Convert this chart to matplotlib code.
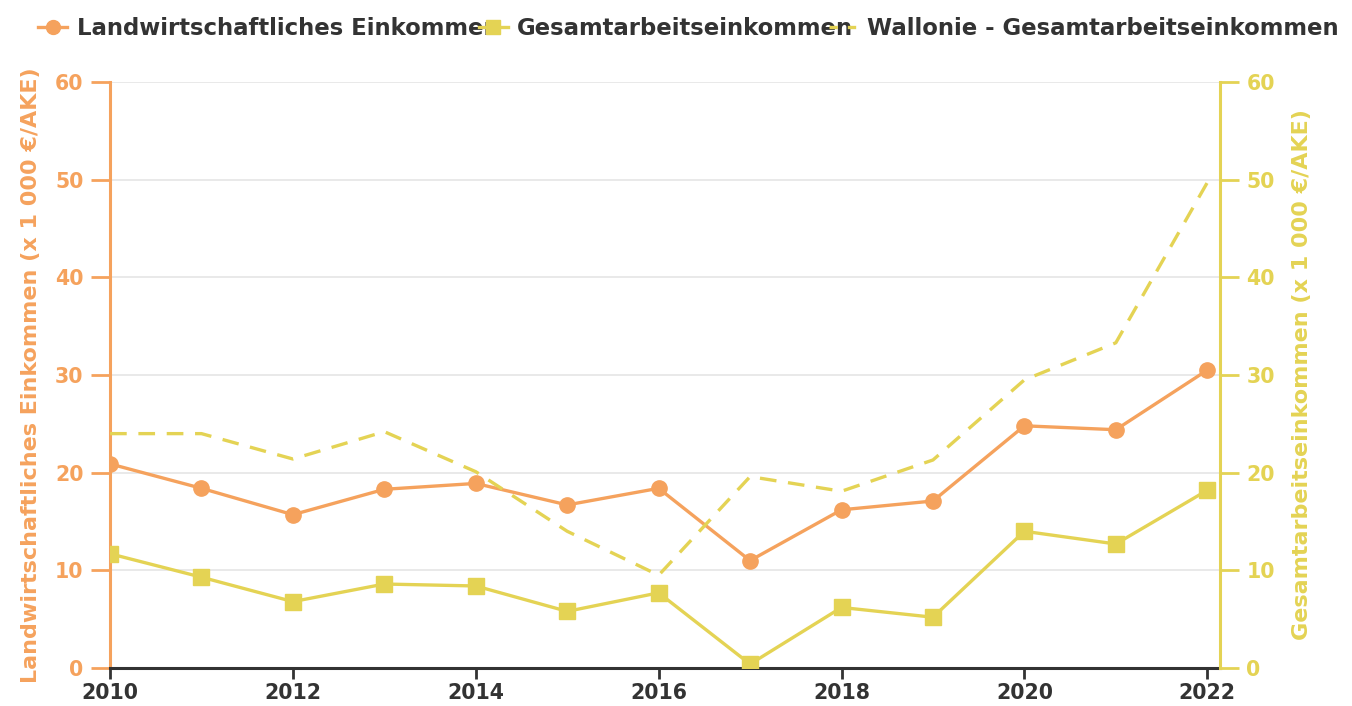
"""Einkommen je AKE: Landwirtschaft vs. Gesamtarbeitseinkommen (2010-2022)."""
import matplotlib
matplotlib.use("Agg")
import matplotlib.pyplot as plt
from matplotlib.lines import Line2D

# ── Daten (x 1 000 €/AKE) ──
jahre = [2010, 2011, 2012, 2013, 2014, 2015, 2016, 2017, 2018, 2019, 2020, 2021, 2022]
landw_einkommen = [20.9, 18.4, 15.7, 18.3, 18.9, 16.7, 18.4, 11.0, 16.2, 17.1, 24.8, 24.4, 30.5]
gesamt_einkommen = [11.7, 9.3, 6.8, 8.6, 8.4, 5.8, 7.7, 0.4, 6.2, 5.2, 14.0, 12.7, 18.2]
wallonie_gesamt = [24.0, 24.0, 21.4, 24.2, 20.1, 14.0, 9.5, 19.6, 18.1, 21.3, 29.5, 33.3, 49.7]

x_ticks = [2010, 2012, 2014, 2016, 2018, 2020, 2022]
y_ticks = [0, 10, 20, 30, 40, 50, 60]

ORANGE = "#f5a25d"
GELB = "#e4d354"
DUNKEL = "#333333"

plt.rcParams.update({
    "font.family": "DejaVu Sans",
    "font.weight": "bold",
})

fig = plt.figure(figsize=(13.52, 7.06), dpi=100)
ax = fig.add_axes([0.0814, 0.0538, 0.821, 0.830])
ax2 = ax.twinx()

ax.plot(jahre, landw_einkommen, color=ORANGE, linewidth=2.4, marker="o", markersize=11, zorder=4)
ax2.plot(jahre, gesamt_einkommen, color=GELB, linewidth=2.4, marker="s", markersize=11, zorder=4)
ax2.plot(jahre, wallonie_gesamt, color=GELB, linewidth=2.4, linestyle=(0, (5, 3.5)), zorder=3)

for a in (ax, ax2):
    a.set_ylim(0, 60)
    a.set_yticks(y_ticks)
    a.set_xlim(2010, 2022.14)
    a.spines["top"].set_visible(False)

ax.set_xticks(x_ticks)
ax.tick_params(axis="x", colors=DUNKEL, labelsize=14.8, length=8, width=2, pad=3)
ax.spines["bottom"].set_color(DUNKEL)
ax.spines["bottom"].set_linewidth(2.2)

ax.grid(axis="y", color="#e3e3e3", linewidth=1.1)
ax.set_axisbelow(True)

ax.spines["left"].set_color(ORANGE)
ax.spines["left"].set_linewidth(2.2)
ax.spines["right"].set_visible(False)
ax.tick_params(axis="y", colors=ORANGE, labelsize=14.8, length=14, width=2, pad=5)
ax.set_ylabel("Landwirtschaftliches Einkommen (x 1 000 €/AKE)", color=ORANGE, fontsize=16,
              fontweight="bold", labelpad=10)

ax2.spines["right"].set_color(GELB)
ax2.spines["right"].set_linewidth(2.2)
ax2.spines["left"].set_visible(False)
ax2.spines["bottom"].set_visible(False)
ax2.tick_params(axis="y", colors=GELB, labelsize=14.8, length=14, width=2, pad=5)
ax2.set_ylabel("Gesamtarbeitseinkommen (x 1 000 €/AKE)", color=GELB, fontsize=16,
               fontweight="bold", labelpad=12)

for lab in ax.get_xticklabels() + ax.get_yticklabels() + ax2.get_yticklabels():
    lab.set_fontweight("bold")

# ── Legende oben (drei Einträge, wie im Original leicht überlappend) ──
eintraege = [
    (Line2D([], [], color=ORANGE, linewidth=2.4, marker="o", markersize=10),
     "Landwirtschaftliches Einkommen", 0.028),
    (Line2D([], [], color=GELB, linewidth=2.4, marker="s", markersize=10),
     "Gesamtarbeitseinkommen", 0.354),
    (Line2D([], [], color=GELB, linewidth=2.4, linestyle=(0, (2.5, 3))),
     "Wallonie - Gesamtarbeitseinkommen", 0.613),
]
for handle, text, xpos in eintraege:
    leg = fig.legend(handles=[handle], labels=[text], loc="center left", bbox_to_anchor=(xpos, 0.96),
                     frameon=False, fontsize=16.4, handlelength=1.3, handletextpad=0.4,
                     borderaxespad=0, borderpad=0)
    leg.set_zorder(1)
    for t in leg.get_texts():
        t.set_color(DUNKEL)
        t.set_fontweight("bold")

fig.savefig("out.png", dpi=100)
